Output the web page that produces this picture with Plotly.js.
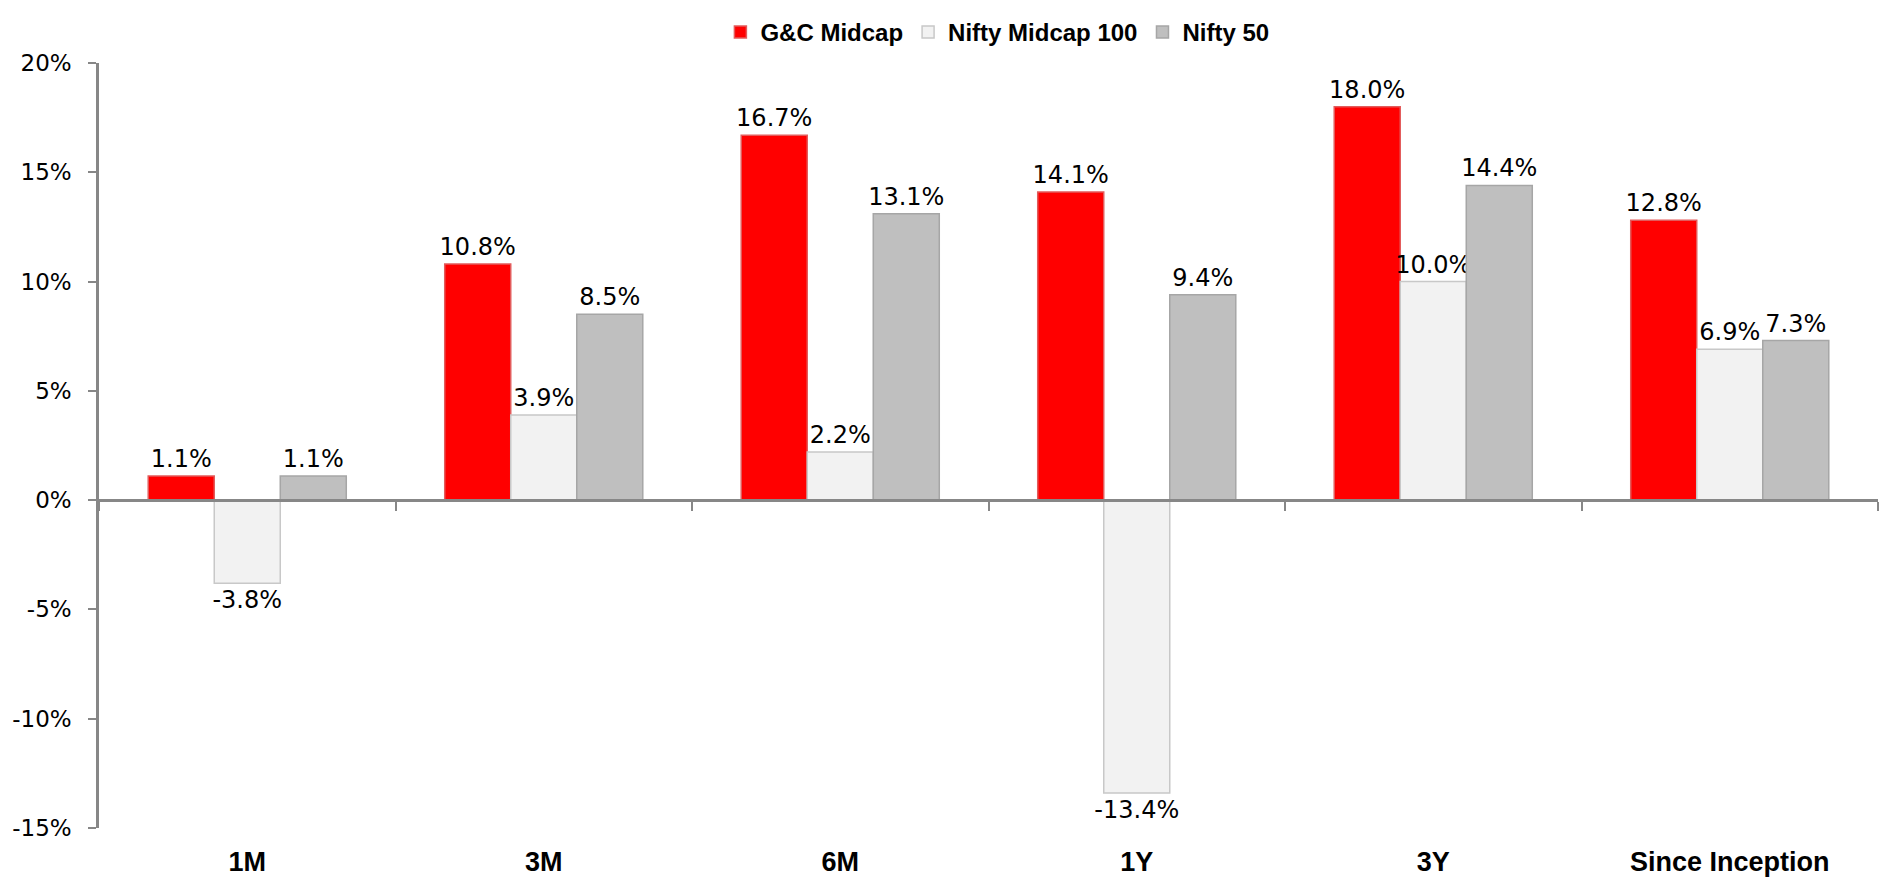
<!DOCTYPE html>
<html>
<head>
<meta charset="utf-8">
<script src="https://cdn.plot.ly/plotly-3.0.1.min.js"></script>
<style>html,body{margin:0;padding:0;background:#fff;}#chart{width:1888px;height:879px;}</style>
</head>
<body>
<div id="chart"></div>
<script>
const categories = ["1M", "3M", "6M", "1Y", "3Y", "Since Inception"];
const gcMidcap = [1.1, 10.8, 16.7, 14.1, 18.0, 12.8];
const niftyMidcap100 = [-3.8, 3.9, 2.2, -13.4, 10.0, 6.9];
const nifty50 = [1.1, 8.5, 13.1, 9.4, 14.4, 7.3];
const yTicks = [-15, -10, -5, 0, 5, 10, 15, 20];
const yTickLabels = ["-15%", "-10%", "-5%", "0%", "5%", "10%", "15%", "20%"];

const labelFont = {family: "DejaVu Sans", size: 24, color: "#000"};
function barTrace(name, vals, fill, border) {
  return {
    type: "bar", name: name, x: categories, y: vals,
    marker: {color: fill, line: {color: border, width: 1.5}},
    text: vals.map(v => v.toFixed(1) + "%"),
    textposition: "outside", textfont: labelFont, cliponaxis: false,
    constraintext: "none",
    hoverinfo: "x+y+name"
  };
}
const traces = [
  barTrace("G&C Midcap", gcMidcap, "#FF0000", "#E35B5B"),
  barTrace("Nifty Midcap 100", niftyMidcap100, "#F2F2F2", "#C8C8C8"),
  barTrace("Nifty 50", nifty50, "#BFBFBF", "#A6A6A6"),
  {type: "scatter", x: [], y: [], xaxis: "x2", yaxis: "y", showlegend: false, hoverinfo: "skip"}
];
const yMin = yTicks[0], yMax = yTicks[yTicks.length - 1];
const boundaries = categories.map((c, i) => i - 0.5).concat([categories.length - 0.5]);
const layout = {
  width: 1888, height: 879,
  margin: {l: 99, r: 10, t: 51, b: 51},
  paper_bgcolor: "#fff", plot_bgcolor: "#fff",
  barmode: "group", bargap: 0.332, bargroupgap: 0,
  showlegend: true,
  legend: {orientation: "h", x: 0.505, xanchor: "center", y: 1.04, yanchor: "middle",
           font: {family: "Liberation Sans", size: 24, color: "#000", weight: "bold"},
           traceorder: "normal", itemwidth: 30},
  xaxis: {type: "category", categoryarray: categories, range: [-0.5, categories.length - 0.5],
          showline: false, showgrid: false, zeroline: false,
          ticks: "outside", ticklen: 10, tickcolor: "rgba(0,0,0,0)",
          tickfont: {family: "Liberation Sans", size: 27, color: "#000", weight: "bold"}},
  xaxis2: {overlaying: "x", anchor: "free", position: (0 - yMin) / (yMax - yMin),
           range: [-0.5, categories.length - 0.5], showline: true, linecolor: "#878787", linewidth: 2.5,
           showgrid: false, zeroline: false, showticklabels: false,
           tickmode: "array", tickvals: boundaries, ticks: "outside", ticklen: 9,
           tickcolor: "#878787", tickwidth: 2},
  yaxis: {range: [yMin, yMax], tickmode: "array", tickvals: yTicks, ticktext: yTickLabels,
          showline: true, linecolor: "#878787", linewidth: 2.5, showgrid: false, zeroline: false,
          ticks: "outside", ticklen: 8, tickcolor: "#878787", tickwidth: 2, ticklabelstandoff: 12,
          tickfont: {family: "DejaVu Sans", size: 23, color: "#000"}}
};
Plotly.newPlot("chart", traces, layout, {displayModeBar: false, responsive: false});
</script>
</body>
</html>
